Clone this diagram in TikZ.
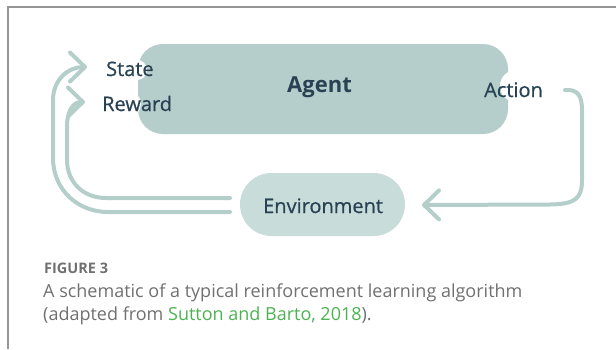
\documentclass[tikz,border=0pt]{standalone}
\usepackage{fontspec}
\setmainfont{Open Sans}
\newfontfamily\labelfont{Open Sans}[FakeBold=0.6]
\usetikzlibrary{arrows.meta}

\definecolor{agentfill}{RGB}{182,206,203}
\definecolor{envfill}{RGB}{200,220,217}
\definecolor{flowc}{RGB}{180,206,202}
\definecolor{labelc}{RGB}{40,66,84}
\definecolor{framec}{RGB}{150,150,150}
\definecolor{captionc}{RGB}{112,112,112}
\definecolor{citec}{RGB}{76,178,82}

\tikzset{
  blob/.style={draw=none, rectangle, inner sep=0pt},
  lbl/.style={text=labelc, inner sep=0pt, anchor=base west,
              font=\labelfont\fontsize{20}{24}\selectfont},
  notch/.style={fill=white, draw=none},
  flow/.style={draw=flowc, line width=4pt, line cap=round, line join=round,
               -{Straight Barb[length=15pt,width=29pt,round]}},
  captext/.style={inner sep=0pt, anchor=base west, text=captionc}
}

\begin{document}
\begin{tikzpicture}[x=1pt, y=-1pt]
  \useasboundingbox (0,0) rectangle (616,349);

  % page frame
  \draw[framec, line width=1.2pt] (616,7) -- (8,7) -- (8,349);

  % agent block with white notches behind the side labels
  \node[blob, fill=agentfill, rounded corners=25pt,
        minimum width=370pt, minimum height=90pt] (agent) at (323,89) {};
  \fill[notch] (137,70) circle (10);
  \fill[notch] (128,104) circle (13);
  \fill[notch] (516,86) circle (16);
  \node[inner sep=0pt, anchor=base west, text=labelc,
        font=\fontsize{22}{26}\selectfont\bfseries] (agenttext) at (287,92) {Agent};

  % environment block
  \node[blob, fill=envfill, rounded corners=31.5pt,
        minimum width=165pt, minimum height=63pt] (env) at (322.5,204.5) {};
  \node[lbl] (envtext) at (263,213) {Environment};

  % side labels
  \node[lbl] (state) at (106,76) {State};
  \node[lbl] (reward) at (102,111) {Reward};
  \node[lbl] (action) at (484,97) {Action};

  % connector end points
  \coordinate (actstart) at (565,90);
  \coordinate (envin) at (422,205);
  \coordinate (stateout) at (230,212);
  \coordinate (rewardout) at (230,198);
  \coordinate (statein) at (87,67);
  \coordinate (rewardin) at (85,102);

  % action -> environment
  \draw[flow] (actstart) .. controls (578,89) and (582,96) .. (582,110)
    -- (582,180) .. controls (582,199) and (575,204) .. (550,204.5) -- (envin);

  % environment -> state (outer loop)
  \draw[flow] (stateout) -- (108,212) .. controls (78,212) and (53,190) .. (53,158)
    -- (53,100) .. controls (53,80) and (68,67) .. (statein);

  % environment -> reward (inner loop)
  \draw[flow] (rewardout) -- (106,198) .. controls (83,198) and (67,182) .. (67,160)
    -- (67,126) .. controls (67,110) and (74,102) .. (rewardin);

  % caption
  \node[captext, font=\fontsize{14.5}{17}\selectfont\bfseries] (figno) at (44,273) {FIGURE 3};
  \node[captext, font=\fontsize{18}{23}\selectfont] (capline1) at (43,297)
    {A schematic of a typical reinforcement learning algorithm};
  \node[captext, font=\fontsize{18}{23}\selectfont] (capline2) at (43,320)
    {(adapted from \textcolor{citec}{Sutton and Barto, 2018}).};
\end{tikzpicture}
\end{document}
